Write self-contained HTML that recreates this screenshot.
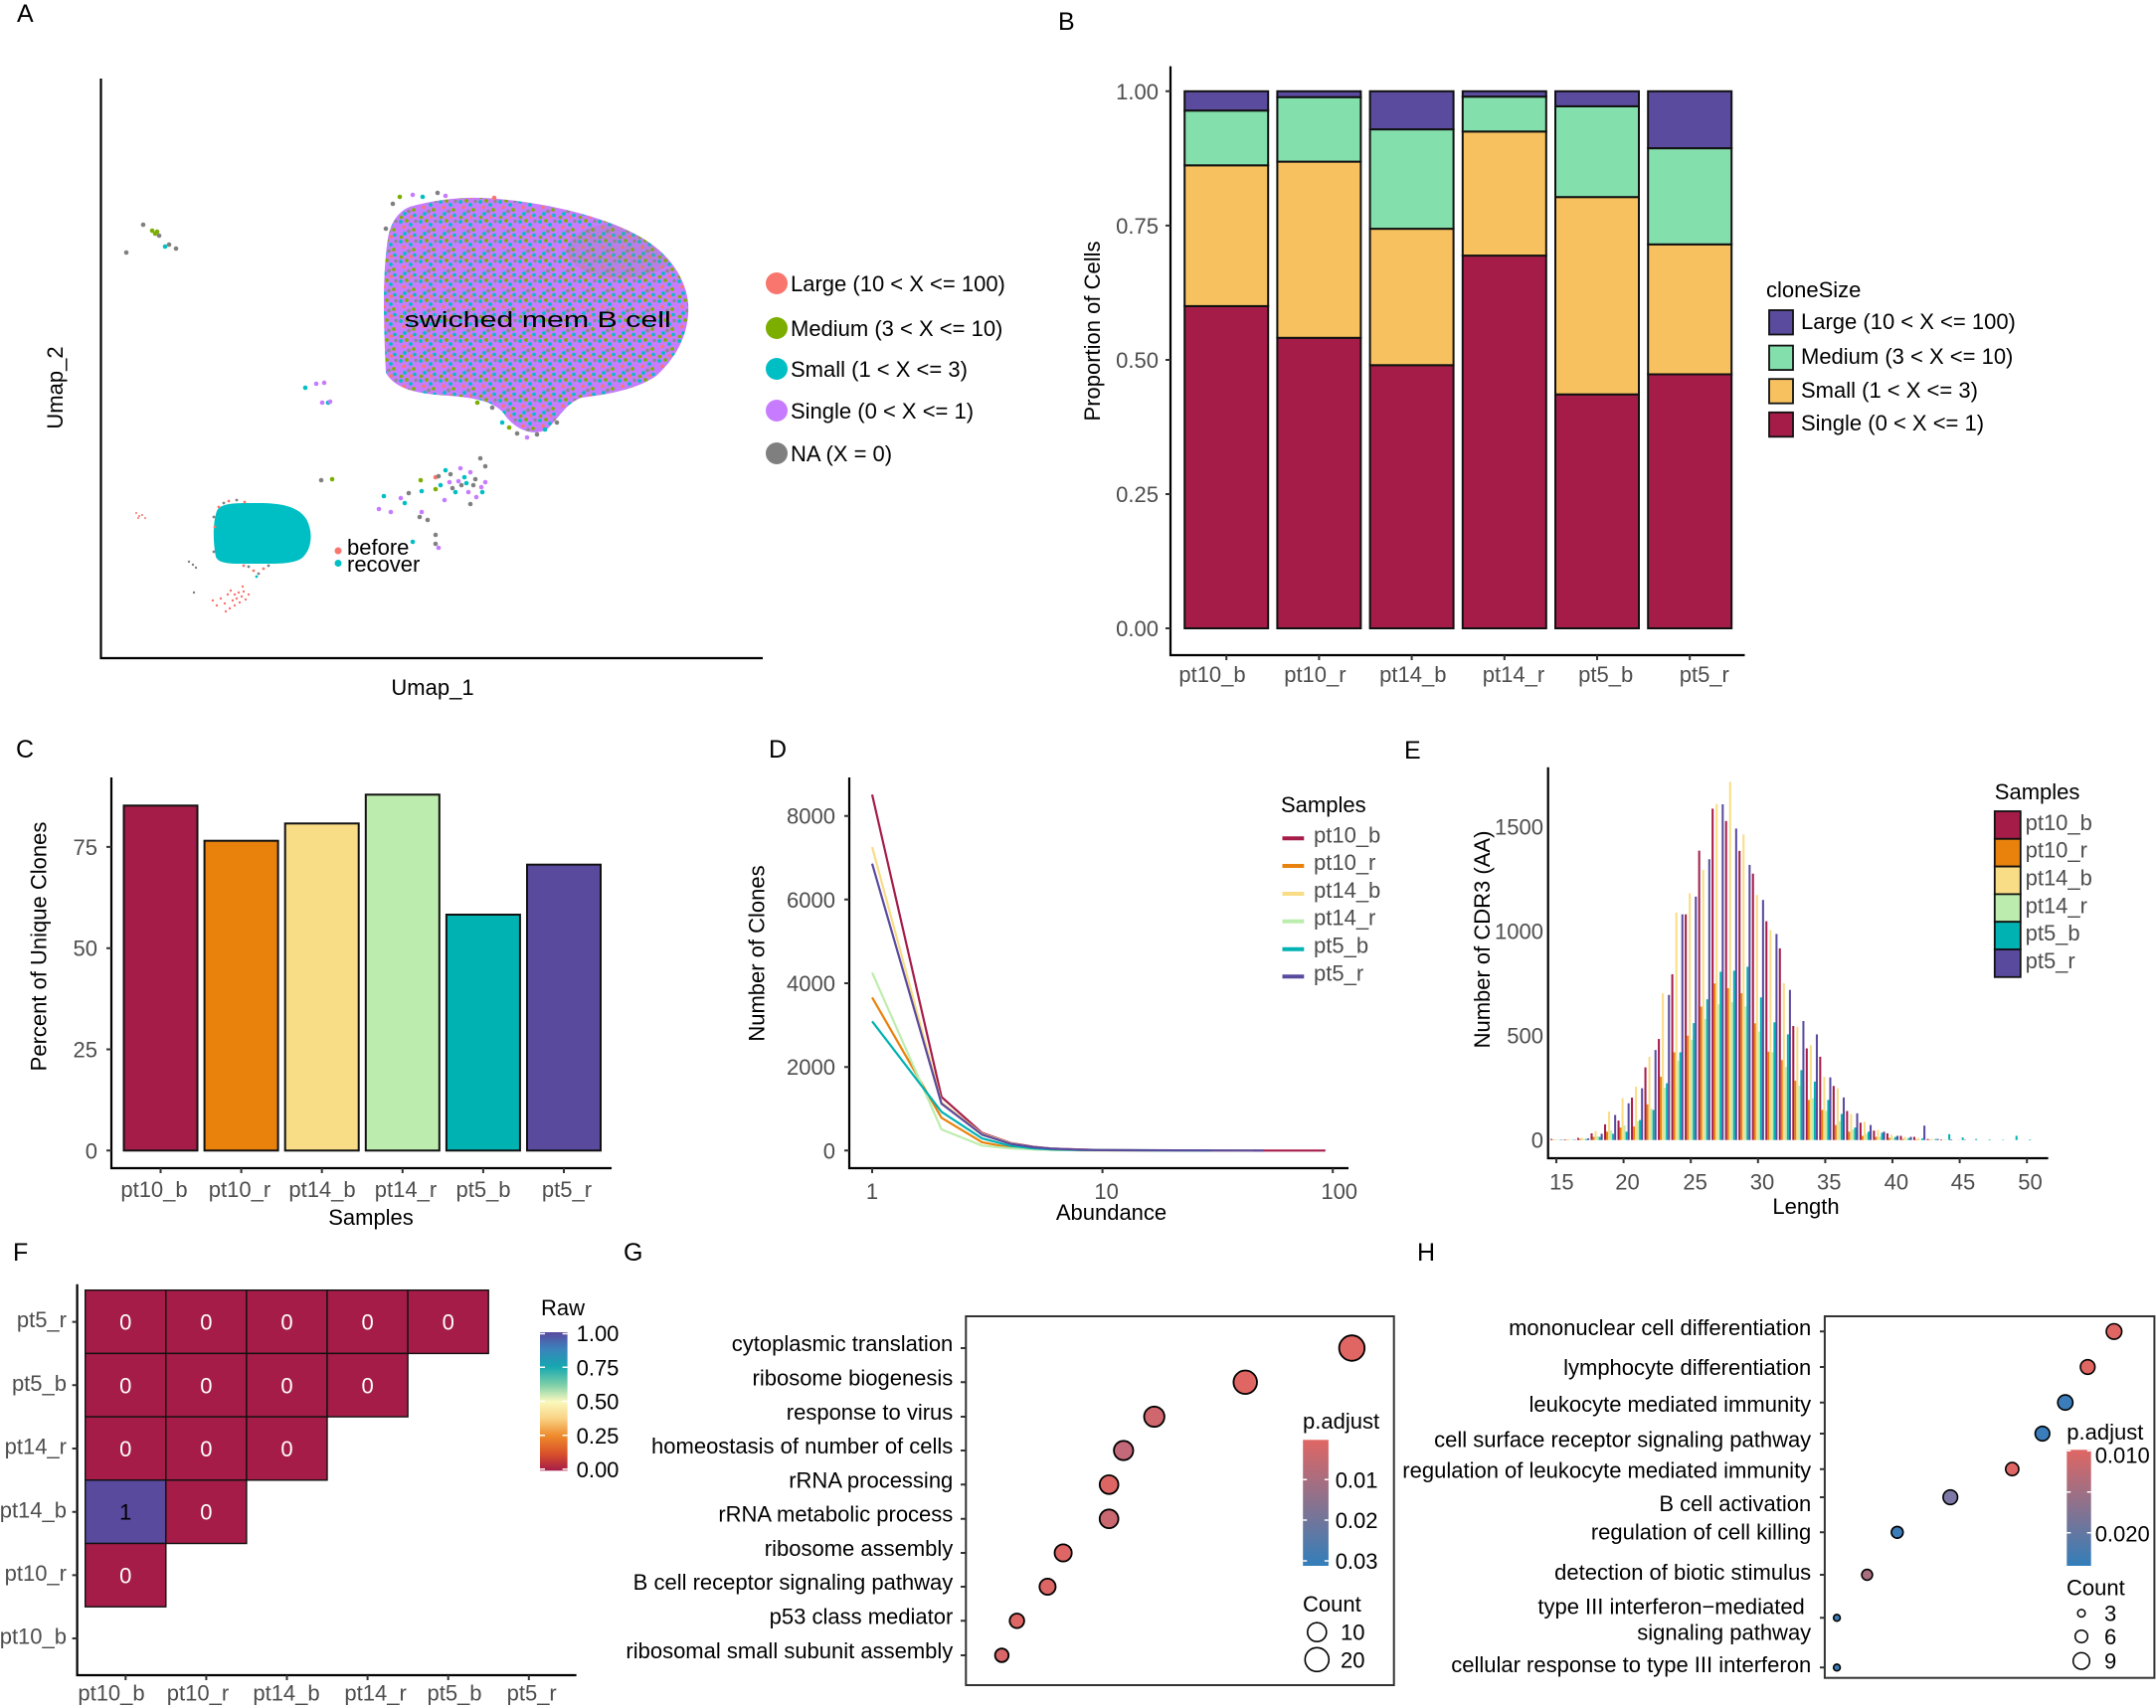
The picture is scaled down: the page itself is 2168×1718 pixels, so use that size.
<!DOCTYPE html>
<html><head><meta charset="utf-8"><title>Figure</title>
<style>
html,body{margin:0;padding:0;background:#fff}
svg{display:block}
text{font-family:"Liberation Sans",Arial,sans-serif;font-size:22px;fill:#000}
.g{fill:#4d4d4d}
.L{font-size:25px}
.e{text-anchor:end}
.m{text-anchor:middle}
.w{fill:#fff}
</style></head><body>
<svg width="2168" height="1718" viewBox="0 0 2168 1718" xmlns="http://www.w3.org/2000/svg">
<defs>
<pattern id="mix" width="20" height="20" patternUnits="userSpaceOnUse">
<rect width="20" height="20" fill="#C77CFF"/>
<circle cx="3" cy="3" r="1.9" fill="#00BFC4"/>
<circle cx="13" cy="6" r="1.9" fill="#00BFC4"/>
<circle cx="7" cy="15" r="1.9" fill="#00BFC4"/>
<circle cx="17" cy="16.5" r="1.8" fill="#00BFC4"/>
<circle cx="9" cy="2" r="1.9" fill="#7CAE00"/>
<circle cx="16" cy="11" r="1.9" fill="#7CAE00"/>
<circle cx="3.5" cy="18.5" r="1.8" fill="#7CAE00"/>
<circle cx="11" cy="12.5" r="1.9" fill="#8c8c8c"/>
<circle cx="18" cy="2.5" r="1.7" fill="#8c8c8c"/>
<circle cx="6" cy="8.5" r="1.8" fill="#F8766D"/>
<circle cx="13.5" cy="18" r="1.7" fill="#F8766D"/>
</pattern>
<clipPath id="blobclip"><path d="M388,375 C386,330 384,280 390,240 C393,222 402,212 412,208 C440,200 470,197 500,200 C560,205 620,222 650,242 C675,258 690,282 692,305 C694,335 680,360 660,378 C640,392 610,397 585,400 C570,405 562,420 552,430 C540,440 520,434 508,418 C500,405 480,400 450,398 C420,396 398,392 388,375 Z"/></clipPath>
<linearGradient id="spec" x1="0" y1="0" x2="0" y2="1">
<stop offset="0" stop-color="#5A4A9E"/><stop offset="0.12" stop-color="#3B82BB"/><stop offset="0.25" stop-color="#16A8B0"/><stop offset="0.38" stop-color="#7DCFA8"/><stop offset="0.5" stop-color="#FAF8BE"/><stop offset="0.62" stop-color="#F9D486"/><stop offset="0.75" stop-color="#EE8A2B"/><stop offset="0.88" stop-color="#D9502B"/><stop offset="1" stop-color="#A51C48"/>
</linearGradient>
<linearGradient id="padj" x1="0" y1="0" x2="0" y2="1">
<stop offset="0" stop-color="#E06663"/><stop offset="1" stop-color="#327EBA"/>
</linearGradient>
</defs>

<!-- ================= Panel A ================= -->
<text class="L" x="17" y="22">A</text>
<g clip-path="url(#blobclip)">
<rect x="380" y="190" width="320" height="255" fill="url(#mix)"/>
<ellipse cx="625" cy="252" rx="55" ry="28" fill="#8a8a8a" opacity="0.22"/>
</g>
<g>
<circle cx="395" cy="205" r="2.3" fill="#808080"/><circle cx="402" cy="198" r="2.3" fill="#7CAE00"/><circle cx="415" cy="196" r="2.3" fill="#C77CFF"/><circle cx="425" cy="198" r="2.3" fill="#00BFC4"/><circle cx="440" cy="194" r="2.3" fill="#808080"/><circle cx="448" cy="197" r="2.3" fill="#C77CFF"/><circle cx="497" cy="199" r="2.3" fill="#F8766D"/><circle cx="388" cy="230" r="2.3" fill="#808080"/>
<circle cx="505" cy="425" r="2.3" fill="#00BFC4"/><circle cx="512" cy="430" r="2.3" fill="#7CAE00"/><circle cx="520" cy="436" r="2.3" fill="#808080"/><circle cx="530" cy="440" r="2.3" fill="#C77CFF"/><circle cx="540" cy="437" r="2.3" fill="#808080"/><circle cx="548" cy="432" r="2.3" fill="#00BFC4"/><circle cx="560" cy="425" r="2.3" fill="#808080"/><circle cx="495" cy="410" r="2.3" fill="#808080"/><circle cx="480" cy="405" r="2.3" fill="#7CAE00"/>
</g>
<text x="406.7" y="329" font-size="29" textLength="268" lengthAdjust="spacingAndGlyphs">swiched mem B cell</text>

<path d="M218,514 C222,505 240,506 260,506 C285,506 300,510 308,522 C315,535 314,552 304,561 C295,568 275,567 255,567 C235,567 220,568 217,560 C214,545 214,525 218,514 Z" fill="#00BFC4"/>
<g>
<circle cx="220" cy="510" r="1.4" fill="#F8766D"/><circle cx="225" cy="506" r="1.4" fill="#808080"/><circle cx="230" cy="504" r="1.4" fill="#F8766D"/><circle cx="238" cy="503" r="1.4" fill="#808080"/><circle cx="246" cy="505" r="1.4" fill="#F8766D"/><circle cx="215" cy="520" r="1.4" fill="#808080"/><circle cx="216" cy="530" r="1.4" fill="#F8766D"/><circle cx="250" cy="570" r="1.4" fill="#808080"/><circle cx="255" cy="574" r="1.4" fill="#F8766D"/><circle cx="260" cy="577" r="1.4" fill="#808080"/><circle cx="258" cy="580" r="1.4" fill="#00BFC4"/><circle cx="265" cy="572" r="1.4" fill="#F8766D"/><circle cx="245" cy="569" r="1.4" fill="#F8766D"/><circle cx="215" cy="555" r="1.4" fill="#808080"/><circle cx="270" cy="569" r="1.4" fill="#808080"/>
</g>
<g fill="#F8766D">
<circle cx="137" cy="516" r="1"/><circle cx="140" cy="519" r="1"/><circle cx="143" cy="518" r="1"/><circle cx="146" cy="521" r="1"/><circle cx="139" cy="521" r="1"/>
<circle cx="232" cy="594" r="1.2"/><circle cx="236" cy="598" r="1.2"/><circle cx="240" cy="596" r="1.2"/><circle cx="243" cy="600" r="1.2"/><circle cx="238" cy="602" r="1.2"/><circle cx="245" cy="595" r="1.2"/><circle cx="234" cy="604" r="1.2"/><circle cx="241" cy="606" r="1.2"/><circle cx="247" cy="603" r="1.2"/><circle cx="229" cy="598" r="1.2"/><circle cx="226" cy="607" r="1.2"/><circle cx="222" cy="602" r="1.2"/><circle cx="218" cy="609" r="1.2"/><circle cx="231" cy="612" r="1.2"/><circle cx="227" cy="615" r="1.2"/><circle cx="236" cy="609" r="1.2"/><circle cx="214" cy="604" r="1.2"/><circle cx="244" cy="590" r="1.2"/><circle cx="250" cy="598" r="1.2"/>
</g>
<g fill="#808080"><circle cx="190" cy="565" r="1.2"/><circle cx="194" cy="568" r="1.2"/><circle cx="197" cy="571" r="1.2"/><circle cx="195" cy="596" r="1.2"/></g>
<g>
<circle cx="144" cy="226" r="2.3" fill="#808080"/><circle cx="153" cy="232" r="2.3" fill="#7CAE00"/><circle cx="156" cy="235" r="2.3" fill="#7CAE00"/><circle cx="158" cy="233" r="2.3" fill="#7CAE00"/><circle cx="160" cy="237" r="2.3" fill="#808080"/><circle cx="166" cy="248" r="2.3" fill="#00BFC4"/><circle cx="170" cy="246" r="2.3" fill="#808080"/><circle cx="177" cy="250" r="2.3" fill="#808080"/><circle cx="127" cy="254" r="2.3" fill="#808080"/>
<circle cx="307" cy="390" r="2.3" fill="#00BFC4"/><circle cx="318" cy="386" r="2.3" fill="#C77CFF"/><circle cx="326" cy="385" r="2.3" fill="#C77CFF"/><circle cx="324" cy="405" r="2.3" fill="#C77CFF"/><circle cx="330" cy="405" r="2.3" fill="#00BFC4"/><circle cx="332" cy="404" r="2.3" fill="#C77CFF"/>
<circle cx="323" cy="483" r="2.3" fill="#808080"/><circle cx="334" cy="482" r="2.3" fill="#7CAE00"/><circle cx="386" cy="499" r="2.3" fill="#00BFC4"/><circle cx="381" cy="512" r="2.3" fill="#C77CFF"/><circle cx="393" cy="515" r="2.3" fill="#C77CFF"/><circle cx="403" cy="501" r="2.3" fill="#C77CFF"/><circle cx="407" cy="506" r="2.3" fill="#00BFC4"/><circle cx="411" cy="496" r="2.3" fill="#808080"/><circle cx="423" cy="483" r="2.3" fill="#7CAE00"/><circle cx="424" cy="494" r="2.3" fill="#00BFC4"/><circle cx="422" cy="520" r="2.3" fill="#808080"/><circle cx="424" cy="515" r="2.3" fill="#C77CFF"/><circle cx="430" cy="523" r="2.3" fill="#808080"/><circle cx="438" cy="492" r="2.3" fill="#7CAE00"/><circle cx="438" cy="480" r="2.3" fill="#F8766D"/><circle cx="441" cy="479" r="2.3" fill="#808080"/><circle cx="443" cy="488" r="2.3" fill="#00BFC4"/><circle cx="448" cy="473" r="2.3" fill="#00BFC4"/><circle cx="447" cy="503" r="2.3" fill="#C77CFF"/><circle cx="453" cy="477" r="2.3" fill="#808080"/><circle cx="452" cy="485" r="2.3" fill="#C77CFF"/><circle cx="455" cy="491" r="2.3" fill="#808080"/><circle cx="458" cy="495" r="2.3" fill="#00BFC4"/><circle cx="461" cy="484" r="2.3" fill="#C77CFF"/><circle cx="463" cy="471" r="2.3" fill="#C77CFF"/><circle cx="464" cy="488" r="2.3" fill="#808080"/><circle cx="467" cy="480" r="2.3" fill="#00BFC4"/><circle cx="469" cy="486" r="2.3" fill="#00BFC4"/><circle cx="471" cy="495" r="2.3" fill="#C77CFF"/><circle cx="473" cy="475" r="2.3" fill="#C77CFF"/><circle cx="473" cy="507" r="2.3" fill="#808080"/><circle cx="476" cy="488" r="2.3" fill="#808080"/><circle cx="478" cy="482" r="2.3" fill="#808080"/><circle cx="479" cy="500" r="2.3" fill="#C77CFF"/><circle cx="483" cy="461" r="2.3" fill="#808080"/><circle cx="484" cy="490" r="2.3" fill="#C77CFF"/><circle cx="485" cy="495" r="2.3" fill="#00BFC4"/><circle cx="488" cy="469" r="2.3" fill="#808080"/><circle cx="488" cy="485" r="2.3" fill="#C77CFF"/><circle cx="438" cy="538" r="2.3" fill="#808080"/><circle cx="438" cy="547" r="2.3" fill="#808080"/><circle cx="441" cy="551" r="2.3" fill="#C77CFF"/><circle cx="415" cy="545" r="2.3" fill="#00BFC4"/>
</g>
<circle cx="340" cy="554" r="3.5" fill="#F8766D"/><circle cx="340" cy="566.5" r="3.5" fill="#00BFC4"/>
<text x="349" y="558" font-size="20">before</text>
<text x="349" y="575" font-size="20">recover</text>
<path d="M101.5 79V662H767" fill="none" stroke="#000" stroke-width="2.2"/>
<text transform="translate(63 390) rotate(-90)" class="m">Umap_2</text>
<text x="435" y="699" class="m">Umap_1</text>
<circle cx="781" cy="285" r="11" fill="#F8766D"/>
<circle cx="781" cy="330" r="11" fill="#7CAE00"/>
<circle cx="781" cy="371" r="11" fill="#00BFC4"/>
<circle cx="781" cy="413" r="11" fill="#C77CFF"/>
<circle cx="781" cy="456" r="11" fill="#7F7F7F"/>
<text x="795" y="293" font-size="23.8">Large (10 &lt; X &lt;= 100)</text>
<text x="795" y="338" font-size="23.8">Medium (3 &lt; X &lt;= 10)</text>
<text x="795" y="379" font-size="23.8">Small (1 &lt; X &lt;= 3)</text>
<text x="795" y="421" font-size="23.8">Single (0 &lt; X &lt;= 1)</text>
<text x="795" y="464" font-size="23.8">NA (X = 0)</text>

<!-- ================= Panel B ================= -->
<text class="L" x="1064" y="30">B</text>
<g stroke="#111" stroke-width="2">
<rect x="1191.2" y="307.9" width="84" height="324.1" fill="#A51C48"/><rect x="1191.2" y="166.3" width="84" height="141.6" fill="#F7C15F"/><rect x="1191.2" y="111.2" width="84" height="55.1" fill="#83DFAB"/><rect x="1191.2" y="91.8" width="84" height="19.4" fill="#5A4B9F"/>
<rect x="1284.4" y="339.8" width="84" height="292.2" fill="#A51C48"/><rect x="1284.4" y="162.6" width="84" height="177.2" fill="#F7C15F"/><rect x="1284.4" y="97.7" width="84" height="64.9" fill="#83DFAB"/><rect x="1284.4" y="91.8" width="84" height="5.9" fill="#5A4B9F"/>
<rect x="1377.6" y="367.3" width="84" height="264.7" fill="#A51C48"/><rect x="1377.6" y="230.1" width="84" height="137.2" fill="#F7C15F"/><rect x="1377.6" y="130.1" width="84" height="100" fill="#83DFAB"/><rect x="1377.6" y="91.8" width="84" height="38.3" fill="#5A4B9F"/>
<rect x="1470.8" y="257.1" width="84" height="374.9" fill="#A51C48"/><rect x="1470.8" y="132.3" width="84" height="124.8" fill="#F7C15F"/><rect x="1470.8" y="97.2" width="84" height="35.1" fill="#83DFAB"/><rect x="1470.8" y="91.8" width="84" height="5.4" fill="#5A4B9F"/>
<rect x="1564" y="396.7" width="84" height="235.3" fill="#A51C48"/><rect x="1564" y="198.2" width="84" height="198.5" fill="#F7C15F"/><rect x="1564" y="106.9" width="84" height="91.3" fill="#83DFAB"/><rect x="1564" y="91.8" width="84" height="15.1" fill="#5A4B9F"/>
<rect x="1657.2" y="376.5" width="84" height="255.5" fill="#A51C48"/><rect x="1657.2" y="245.8" width="84" height="130.7" fill="#F7C15F"/><rect x="1657.2" y="149.1" width="84" height="96.7" fill="#83DFAB"/><rect x="1657.2" y="91.8" width="84" height="57.3" fill="#5A4B9F"/>
</g>
<path d="M1177 66.6V659H1754.5" fill="none" stroke="#000" stroke-width="2.2"/>
<path d="M1172 632H1177M1172 497H1177M1172 362H1177M1172 226.9H1177M1172 91.8H1177M1233.2 659V664M1326.4 659V664M1419.6 659V664M1512.8 659V664M1606 659V664M1699.2 659V664" stroke="#333" stroke-width="2"/>
<text class="g e" x="1165" y="640">0.00</text>
<text class="g e" x="1165" y="505">0.25</text>
<text class="g e" x="1165" y="370">0.50</text>
<text class="g e" x="1165" y="235">0.75</text>
<text class="g e" x="1165" y="100">1.00</text>
<text class="g m" x="1219" y="686">pt10_b</text>
<text class="g m" x="1322.4" y="686">pt10_r</text>
<text class="g m" x="1420.8" y="686">pt14_b</text>
<text class="g m" x="1522" y="686">pt14_r</text>
<text class="g m" x="1614.7" y="686">pt5_b</text>
<text class="g m" x="1713.8" y="686">pt5_r</text>
<text transform="translate(1106 333) rotate(-90)" class="m">Proportion of Cells</text>
<text x="1776" y="299">cloneSize</text>
<g stroke="#111" stroke-width="1.8">
<rect x="1779" y="312" width="24" height="24.5" fill="#5A4B9F"/>
<rect x="1779" y="347.6" width="24" height="24.5" fill="#83DFAB"/>
<rect x="1779" y="381.2" width="24" height="24.5" fill="#F7C15F"/>
<rect x="1779" y="414.8" width="24" height="24.5" fill="#A51C48"/>
</g>
<text x="1811" y="331" font-size="23">Large (10 &lt; X &lt;= 100)</text>
<text x="1811" y="366" font-size="23">Medium (3 &lt; X &lt;= 10)</text>
<text x="1811" y="400" font-size="23">Small (1 &lt; X &lt;= 3)</text>
<text x="1811" y="433" font-size="23">Single (0 &lt; X &lt;= 1)</text>

<!-- ================= Panel C ================= -->
<text class="L" x="16" y="762">C</text>
<g stroke="#111" stroke-width="2">
<rect x="124.5" y="810.3" width="74" height="347" fill="#A51C48"/>
<rect x="205.6" y="845.7" width="74" height="311.6" fill="#E8820C"/>
<rect x="286.7" y="828.3" width="74" height="329" fill="#F9DC86"/>
<rect x="367.8" y="799.3" width="74" height="358" fill="#BDEDAE"/>
<rect x="448.9" y="920" width="74" height="237.3" fill="#00B2B2"/>
<rect x="530" y="869.7" width="74" height="287.6" fill="#594A9E"/>
</g>
<path d="M112 782V1175H615" fill="none" stroke="#000" stroke-width="2.2"/>
<path d="M107 1157.3H112M107 1055.5H112M107 953.7H112M107 851.9H112M161.5 1175V1180M242.6 1175V1180M323.7 1175V1180M404.8 1175V1180M485.9 1175V1180M567 1175V1180" stroke="#333" stroke-width="2"/>
<text class="g e" x="98" y="1165.3">0</text>
<text class="g e" x="98" y="1063.5">25</text>
<text class="g e" x="98" y="961.7">50</text>
<text class="g e" x="98" y="860">75</text>
<text class="g m" x="155" y="1204">pt10_b</text>
<text class="g m" x="241" y="1204">pt10_r</text>
<text class="g m" x="324" y="1204">pt14_b</text>
<text class="g m" x="408" y="1204">pt14_r</text>
<text class="g m" x="486" y="1204">pt5_b</text>
<text class="g m" x="570" y="1204">pt5_r</text>
<text class="m" x="373" y="1232">Samples</text>
<text transform="translate(46.5 952) rotate(-90)" class="m">Percent of Unique Clones</text>

<!-- ================= Panel D ================= -->
<text class="L" x="773" y="762">D</text>
<g fill="none" stroke-width="2.2" stroke-linejoin="round">
<polyline stroke="#A51C48" points="877,799.3 946.7,1103.3 987.5,1139.6 1016.4,1149.7 1038.9,1153.5 1057.2,1155.2 1086.1,1156.2 1108.6,1156.8 1149.4,1157.1 1219.1,1157.3 1332.8,1157.3"/>
<polyline stroke="#E8820C" points="877,1003.3 946.7,1124.3 987.5,1148.9 1016.4,1154.4 1038.9,1155.8 1057.2,1156.5 1086.1,1157 1219.1,1157.3"/>
<polyline stroke="#F9DC86" points="877,852 946.7,1108.9 987.5,1140.5 1016.4,1150.1 1038.9,1153.9 1057.2,1155.4 1086.1,1156.5 1108.6,1156.9 1260,1157.3"/>
<polyline stroke="#BDEDAE" points="877,978.3 946.7,1136 987.5,1152.3 1016.4,1155.2 1038.9,1156.2 1057.2,1156.7 1086.1,1157 1178.3,1157.3"/>
<polyline stroke="#00B2B2" points="877,1027.3 946.7,1118.3 987.5,1145.1 1016.4,1152.7 1038.9,1155.2 1057.2,1156.1 1086.1,1156.8 1219.1,1157.3"/>
<polyline stroke="#594A9E" points="877,868.7 946.7,1110.1 987.5,1141.3 1016.4,1150.6 1038.9,1153.9 1057.2,1155.4 1086.1,1156.5 1108.6,1156.9 1270.5,1157.3"/>
</g>
<path d="M854 782V1175H1356" fill="none" stroke="#000" stroke-width="2.2"/>
<path d="M849 1157.3H854M849 1073.2H854M849 989H854M849 904.8H854M849 820.7H854M877 1175V1180M1108.6 1175V1180M1340.2 1175V1180" stroke="#333" stroke-width="2"/>
<text class="g e" x="840" y="1165.3">0</text>
<text class="g e" x="840" y="1081.2">2000</text>
<text class="g e" x="840" y="997">4000</text>
<text class="g e" x="840" y="912.8">6000</text>
<text class="g e" x="840" y="828.7">8000</text>
<text class="g m" x="877" y="1206">1</text>
<text class="g m" x="1112.6" y="1206">10</text>
<text class="g m" x="1346.7" y="1206">100</text>
<text class="m" x="1117.5" y="1227">Abundance</text>
<text transform="translate(768.5 959) rotate(-90)" class="m">Number of Clones</text>
<text x="1288" y="817">Samples</text>
<g stroke-width="4">
<path d="M1289.5 843.3H1311.3" stroke="#A51C48"/>
<path d="M1289.5 871H1311.3" stroke="#E8820C"/>
<path d="M1289.5 899H1311.3" stroke="#F9DC86"/>
<path d="M1289.5 926.7H1311.3" stroke="#BDEDAE"/>
<path d="M1289.5 954.7H1311.3" stroke="#00B2B2"/>
<path d="M1289.5 982.3H1311.3" stroke="#594A9E"/>
</g>
<text class="g" x="1321" y="847.5">pt10_b</text>
<text class="g" x="1321" y="875">pt10_r</text>
<text class="g" x="1321" y="903">pt14_b</text>
<text class="g" x="1321" y="930.7">pt14_r</text>
<text class="g" x="1321" y="958.7">pt5_b</text>
<text class="g" x="1321" y="986.3">pt5_r</text>

<!-- ================= Panel E ================= -->
<text class="L" x="1412" y="763">E</text>
<g transform="translate(1565 1146.7) scale(13.52 -0.21)">
<g fill="#A51C48" transform="translate(-0.45 0)">
<rect x="0" width=".15" height="5"/><rect x="1" width=".15" height="3"/><rect x="2" width=".15" height="10"/><rect x="3" width=".15" height="32"/><rect x="4" width=".15" height="75"/><rect x="5" width=".15" height="93"/><rect x="6" width=".15" height="203"/><rect x="7" width=".15" height="348"/><rect x="8" width=".15" height="484"/><rect x="9" width=".15" height="794"/><rect x="10" width=".15" height="1081"/><rect x="11" width=".15" height="1386"/><rect x="12" width=".15" height="1587"/><rect x="13" width=".15" height="1528"/><rect x="14" width=".15" height="1385"/><rect x="15" width=".15" height="1276"/><rect x="16" width=".15" height="1048"/><rect x="17" width=".15" height="918"/><rect x="18" width=".15" height="546"/><rect x="19" width=".15" height="439"/><rect x="20" width=".15" height="399"/><rect x="21" width=".15" height="259"/><rect x="22" width=".15" height="139"/><rect x="23" width=".15" height="83"/><rect x="24" width=".15" height="45"/><rect x="25" width=".15" height="32"/><rect x="26" width=".15" height="20"/><rect x="27" width=".15" height="15"/><rect x="28" width=".15" height="5"/><rect x="29" width=".15" height="3"/>
</g>
<g fill="#E8820C" transform="translate(-0.3 0)">
<rect x="0" width=".15" height="2"/><rect x="1" width=".15" height="2"/><rect x="2" width=".15" height="5"/><rect x="3" width=".15" height="15"/><rect x="4" width=".15" height="40"/><rect x="5" width=".15" height="60"/><rect x="6" width=".15" height="65"/><rect x="7" width=".15" height="171"/><rect x="8" width=".15" height="303"/><rect x="9" width=".15" height="420"/><rect x="10" width=".15" height="500"/><rect x="11" width=".15" height="639"/><rect x="12" width=".15" height="750"/><rect x="13" width=".15" height="727"/><rect x="14" width=".15" height="703"/><rect x="15" width=".15" height="559"/><rect x="16" width=".15" height="423"/><rect x="17" width=".15" height="383"/><rect x="18" width=".15" height="284"/><rect x="19" width=".15" height="192"/><rect x="20" width=".15" height="144"/><rect x="21" width=".15" height="72"/><rect x="22" width=".15" height="40"/><rect x="23" width=".15" height="20"/><rect x="24" width=".15" height="15"/><rect x="25" width=".15" height="10"/><rect x="26" width=".15" height="5"/><rect x="27" width=".15" height="3"/><rect x="28" width=".15" height="2"/>
</g>
<g fill="#F9DC86" transform="translate(-0.15 0)">
<rect x="0" width=".15" height="3"/><rect x="1" width=".15" height="3"/><rect x="2" width=".15" height="10"/><rect x="3" width=".15" height="43"/><rect x="4" width=".15" height="136"/><rect x="5" width=".15" height="200"/><rect x="6" width=".15" height="256"/><rect x="7" width=".15" height="399"/><rect x="8" width=".15" height="703"/><rect x="9" width=".15" height="1089"/><rect x="10" width=".15" height="1182"/><rect x="11" width=".15" height="1294"/><rect x="12" width=".15" height="1610"/><rect x="13" width=".15" height="1715"/><rect x="14" width=".15" height="1464"/><rect x="15" width=".15" height="1174"/><rect x="16" width=".15" height="1006"/><rect x="17" width=".15" height="751"/><rect x="18" width=".15" height="543"/><rect x="19" width=".15" height="455"/><rect x="20" width=".15" height="303"/><rect x="21" width=".15" height="248"/><rect x="22" width=".15" height="125"/><rect x="23" width=".15" height="88"/><rect x="24" width=".15" height="48"/><rect x="25" width=".15" height="25"/><rect x="26" width=".15" height="15"/><rect x="27" width=".15" height="10"/><rect x="28" width=".15" height="5"/><rect x="29" width=".15" height="3"/><rect x="30" width=".15" height="2"/>
</g>
<g fill="#BDEDAE" transform="translate(0 0)">
<rect x="0" width=".15" height="2"/><rect x="1" width=".15" height="2"/><rect x="2" width=".15" height="5"/><rect x="3" width=".15" height="18"/><rect x="4" width=".15" height="45"/><rect x="5" width=".15" height="70"/><rect x="6" width=".15" height="90"/><rect x="7" width=".15" height="150"/><rect x="8" width=".15" height="250"/><rect x="9" width=".15" height="380"/><rect x="10" width=".15" height="480"/><rect x="11" width=".15" height="580"/><rect x="12" width=".15" height="650"/><rect x="13" width=".15" height="660"/><rect x="14" width=".15" height="640"/><rect x="15" width=".15" height="520"/><rect x="16" width=".15" height="420"/><rect x="17" width=".15" height="350"/><rect x="18" width=".15" height="260"/><rect x="19" width=".15" height="200"/><rect x="20" width=".15" height="140"/><rect x="21" width=".15" height="90"/><rect x="22" width=".15" height="50"/><rect x="23" width=".15" height="30"/><rect x="24" width=".15" height="15"/><rect x="25" width=".15" height="10"/><rect x="26" width=".15" height="5"/><rect x="27" width=".15" height="3"/><rect x="28" width=".15" height="2"/>
</g>
<g fill="#00B2B2" transform="translate(0.15 0)">
<rect x="0" width=".15" height="1"/><rect x="1" width=".15" height="1"/><rect x="2" width=".15" height="5"/><rect x="3" width=".15" height="15"/><rect x="4" width=".15" height="30"/><rect x="5" width=".15" height="40"/><rect x="6" width=".15" height="96"/><rect x="7" width=".15" height="144"/><rect x="8" width=".15" height="272"/><rect x="9" width=".15" height="420"/><rect x="10" width=".15" height="560"/><rect x="11" width=".15" height="674"/><rect x="12" width=".15" height="806"/><rect x="13" width=".15" height="811"/><rect x="14" width=".15" height="830"/><rect x="15" width=".15" height="683"/><rect x="16" width=".15" height="564"/><rect x="17" width=".15" height="506"/><rect x="18" width=".15" height="335"/><rect x="19" width=".15" height="280"/><rect x="20" width=".15" height="192"/><rect x="21" width=".15" height="125"/><rect x="22" width=".15" height="60"/><rect x="23" width=".15" height="40"/><rect x="24" width=".15" height="35"/><rect x="25" width=".15" height="15"/><rect x="26" width=".15" height="10"/><rect x="27" width=".15" height="8"/><rect x="28" width=".15" height="5"/><rect x="29" width=".15" height="28"/><rect x="30" width=".15" height="12"/><rect x="31" width=".15" height="5"/><rect x="32" width=".15" height="3"/><rect x="33" width=".15" height="2"/><rect x="34" width=".15" height="20"/><rect x="35" width=".15" height="3"/>
</g>
<g fill="#594A9E" transform="translate(0.3 0)">
<rect x="0" width=".15" height="2"/><rect x="1" width=".15" height="2"/><rect x="2" width=".15" height="8"/><rect x="3" width=".15" height="30"/><rect x="4" width=".15" height="120"/><rect x="5" width=".15" height="176"/><rect x="6" width=".15" height="248"/><rect x="7" width=".15" height="431"/><rect x="8" width=".15" height="695"/><rect x="9" width=".15" height="1081"/><rect x="10" width=".15" height="1166"/><rect x="11" width=".15" height="1345"/><rect x="12" width=".15" height="1608"/><rect x="13" width=".15" height="1492"/><rect x="14" width=".15" height="1318"/><rect x="15" width=".15" height="1150"/><rect x="16" width=".15" height="987"/><rect x="17" width=".15" height="719"/><rect x="18" width=".15" height="570"/><rect x="19" width=".15" height="506"/><rect x="20" width=".15" height="300"/><rect x="21" width=".15" height="204"/><rect x="22" width=".15" height="128"/><rect x="23" width=".15" height="72"/><rect x="24" width=".15" height="40"/><rect x="25" width=".15" height="20"/><rect x="26" width=".15" height="15"/><rect x="27" width=".15" height="69"/><rect x="28" width=".15" height="5"/><rect x="29" width=".15" height="3"/><rect x="30" width=".15" height="2"/>
</g>
</g>
<path d="M1556.7 771.7V1165H2059.6" fill="none" stroke="#000" stroke-width="2.2"/>
<path d="M1565 1165V1170M1632.6 1165V1170M1700.2 1165V1170M1767.8 1165V1170M1835.4 1165V1170M1903 1165V1170M1970.6 1165V1170M2038.2 1165V1170" stroke="#333" stroke-width="2"/>
<text class="g e" x="1552" y="1154.7">0</text>
<text class="g e" x="1552" y="1049.7">500</text>
<text class="g e" x="1552" y="944.7">1000</text>
<text class="g e" x="1552" y="839.7">1500</text>
<text class="g m" x="1570.4" y="1196.3">15</text>
<text class="g m" x="1636.5" y="1196.3">20</text>
<text class="g m" x="1704.6" y="1196.3">25</text>
<text class="g m" x="1772" y="1196.3">30</text>
<text class="g m" x="1839.3" y="1196.3">35</text>
<text class="g m" x="1906.9" y="1196.3">40</text>
<text class="g m" x="1974" y="1196.3">45</text>
<text class="g m" x="2041.5" y="1196.3">50</text>
<text class="m" x="1816" y="1221">Length</text>
<text transform="translate(1498 945) rotate(-90)" class="m">Number of CDR3 (AA)</text>
<text x="2005.8" y="804">Samples</text>
<g stroke="#111" stroke-width="1.8">
<rect x="2005.8" y="816" width="26" height="27.8" fill="#A51C48"/>
<rect x="2005.8" y="843.8" width="26" height="27.8" fill="#E8820C"/>
<rect x="2005.8" y="871.6" width="26" height="27.8" fill="#F9DC86"/>
<rect x="2005.8" y="899.4" width="26" height="27.8" fill="#BDEDAE"/>
<rect x="2005.8" y="927.2" width="26" height="27.8" fill="#00B2B2"/>
<rect x="2005.8" y="955" width="26" height="27.8" fill="#594A9E"/>
</g>
<text class="g" x="2036.6" y="835">pt10_b</text>
<text class="g" x="2036.6" y="862.7">pt10_r</text>
<text class="g" x="2036.6" y="890.5">pt14_b</text>
<text class="g" x="2036.6" y="918.3">pt14_r</text>
<text class="g" x="2036.6" y="946.1">pt5_b</text>
<text class="g" x="2036.6" y="973.9">pt5_r</text>

<!-- ================= Panel F ================= -->
<text class="L" x="13" y="1268">F</text>
<g stroke="#111" stroke-width="1.4" fill="#A51C48">
<rect x="85.7" y="1297.7" width="81.1" height="63.7"/><rect x="166.8" y="1297.7" width="81.1" height="63.7"/><rect x="247.9" y="1297.7" width="81.1" height="63.7"/><rect x="329" y="1297.7" width="81.1" height="63.7"/><rect x="410.1" y="1297.7" width="81.1" height="63.7"/>
<rect x="85.7" y="1361.4" width="81.1" height="63.7"/><rect x="166.8" y="1361.4" width="81.1" height="63.7"/><rect x="247.9" y="1361.4" width="81.1" height="63.7"/><rect x="329" y="1361.4" width="81.1" height="63.7"/>
<rect x="85.7" y="1425.1" width="81.1" height="63.7"/><rect x="166.8" y="1425.1" width="81.1" height="63.7"/><rect x="247.9" y="1425.1" width="81.1" height="63.7"/>
<rect x="85.7" y="1488.8" width="81.1" height="63.7" fill="#594A9E"/><rect x="166.8" y="1488.8" width="81.1" height="63.7"/>
<rect x="85.7" y="1552.5" width="81.1" height="63.7"/>
</g>
<g>
<text class="w m" x="126.3" y="1337.6">0</text><text class="w m" x="207.4" y="1337.6">0</text><text class="w m" x="288.5" y="1337.6">0</text><text class="w m" x="369.6" y="1337.6">0</text><text class="w m" x="450.7" y="1337.6">0</text>
<text class="w m" x="126.3" y="1401.3">0</text><text class="w m" x="207.4" y="1401.3">0</text><text class="w m" x="288.5" y="1401.3">0</text><text class="w m" x="369.6" y="1401.3">0</text>
<text class="w m" x="126.3" y="1465">0</text><text class="w m" x="207.4" y="1465">0</text><text class="w m" x="288.5" y="1465">0</text>
<text class="m" x="126.3" y="1528.7">1</text><text class="w m" x="207.4" y="1528.7">0</text>
<text class="w m" x="126.3" y="1592.4">0</text>
</g>
<path d="M77.6 1291.7V1685H579.6" fill="none" stroke="#000" stroke-width="2.2"/>
<path d="M72.6 1329.6H77.6M72.6 1393.3H77.6M72.6 1457H77.6M72.6 1520.7H77.6M72.6 1584.4H77.6M72.6 1648H77.6M126.3 1685V1690M207.4 1685V1690M288.5 1685V1690M369.6 1685V1690M450.7 1685V1690M531.8 1685V1690" stroke="#333" stroke-width="2"/>
<text class="g e" x="67" y="1335.2">pt5_r</text>
<text class="g e" x="67" y="1398.9">pt5_b</text>
<text class="g e" x="67" y="1462.6">pt14_r</text>
<text class="g e" x="67" y="1526.3">pt14_b</text>
<text class="g e" x="67" y="1590">pt10_r</text>
<text class="g e" x="67" y="1653.6">pt10_b</text>
<text class="g m" x="112" y="1710.6">pt10_b</text>
<text class="g m" x="199" y="1710.6">pt10_r</text>
<text class="g m" x="288" y="1710.6">pt14_b</text>
<text class="g m" x="377.6" y="1710.6">pt14_r</text>
<text class="g m" x="457" y="1710.6">pt5_b</text>
<text class="g m" x="534.7" y="1710.6">pt5_r</text>
<text x="544" y="1323">Raw</text>
<rect x="543" y="1340" width="27.6" height="139.3" fill="url(#spec)"/>
<path d="M543 1375.3h5M565.6 1375.3h5M543 1409.5h5M565.6 1409.5h5M543 1443.8h5M565.6 1443.8h5M543 1341.5h5M565.6 1341.5h5M543 1477.8h5M565.6 1477.8h5" stroke="#fff" stroke-width="1.5"/>
<text x="579.6" y="1349">1.00</text>
<text x="579.6" y="1383.3">0.75</text>
<text x="579.6" y="1417.5">0.50</text>
<text x="579.6" y="1451.8">0.25</text>
<text x="579.6" y="1486">0.00</text>

<!-- ================= Panel G ================= -->
<text class="L" x="627" y="1268">G</text>
<rect x="971.3" y="1324" width="430.4" height="371" fill="none" stroke="#333" stroke-width="2"/>
<path d="M966 1356H971M966 1390.3H971M966 1425H971M966 1459H971M966 1493.3H971M966 1527.7H971M966 1562H971M966 1596H971M966 1630.3H971M966 1665H971" stroke="#333" stroke-width="2"/>
<text class="e" x="958.3" y="1359">cytoplasmic translation</text>
<text class="e" x="958.3" y="1393.3">ribosome biogenesis</text>
<text class="e" x="958.3" y="1428">response to virus</text>
<text class="e" x="958.3" y="1462">homeostasis of number of cells</text>
<text class="e" x="958.3" y="1496.3">rRNA processing</text>
<text class="e" x="958.3" y="1530.7">rRNA metabolic process</text>
<text class="e" x="958.3" y="1565">ribosome assembly</text>
<text class="e" x="958.3" y="1599">B cell receptor signaling pathway</text>
<text class="e" x="958.3" y="1633.3">p53 class mediator</text>
<text class="e" x="958.3" y="1668">ribosomal small subunit assembly</text>
<g stroke="#000" stroke-width="1.8">
<circle cx="1359.4" cy="1356" r="12.8" fill="#E06663"/>
<circle cx="1252.2" cy="1390.3" r="11.8" fill="#E06663"/>
<circle cx="1160.7" cy="1425" r="10.2" fill="#D0676E"/>
<circle cx="1129.8" cy="1459" r="9.7" fill="#C4697A"/>
<circle cx="1115.2" cy="1493.3" r="9.4" fill="#DD6665"/>
<circle cx="1115.2" cy="1527.7" r="9.4" fill="#C96871"/>
<circle cx="1069.1" cy="1562" r="8.6" fill="#DE6664"/>
<circle cx="1053.4" cy="1596" r="8.1" fill="#DC6665"/>
<circle cx="1022.6" cy="1630.3" r="7.3" fill="#DE6664"/>
<circle cx="1007.4" cy="1665" r="6.8" fill="#D9676A"/>
</g>
<text x="1310" y="1437">p.adjust</text>
<rect x="1310.2" y="1448.3" width="25.7" height="126.7" fill="url(#padj)"/>
<path d="M1310.2 1488.3h4M1331.9 1488.3h4M1310.2 1529h4M1331.9 1529h4M1310.2 1570h4M1331.9 1570h4" stroke="#fff" stroke-width="1.5"/>
<text x="1342.7" y="1496.3">0.01</text>
<text x="1342.7" y="1537">0.02</text>
<text x="1342.7" y="1578">0.03</text>
<text x="1310" y="1621">Count</text>
<circle cx="1324.3" cy="1641.7" r="9.5" fill="none" stroke="#000" stroke-width="1.6"/>
<circle cx="1324.3" cy="1669.3" r="12" fill="none" stroke="#000" stroke-width="1.6"/>
<text x="1348" y="1649.7">10</text>
<text x="1348" y="1677.3">20</text>

<!-- ================= Panel H ================= -->
<text class="L" x="1425" y="1268">H</text>
<rect x="1834.9" y="1324" width="331.5" height="363.7" fill="none" stroke="#333" stroke-width="2"/>
<path d="M1830 1339.3H1835M1830 1375H1835M1830 1410.7H1835M1830 1442H1835M1830 1477.7H1835M1830 1506H1835M1830 1541.3H1835M1830 1584H1835M1830 1627.3H1835M1830 1677.3H1835" stroke="#333" stroke-width="2"/>
<text class="e" x="1821.2" y="1343">mononuclear cell differentiation</text>
<text class="e" x="1821.2" y="1383">lymphocyte differentiation</text>
<text class="e" x="1821.2" y="1420">leukocyte mediated immunity</text>
<text class="e" x="1821.2" y="1455.5">cell surface receptor signaling pathway</text>
<text class="e" x="1821.2" y="1486.5">regulation of leukocyte mediated immunity</text>
<text class="e" x="1821.2" y="1520">B cell activation</text>
<text class="e" x="1821.2" y="1548.5">regulation of cell killing</text>
<text class="e" x="1821.2" y="1589">detection of biotic stimulus</text>
<text class="e" x="1814.8" y="1623.5">type III interferon−mediated</text>
<text class="e" x="1821.2" y="1649.5">signaling pathway</text>
<text class="e" x="1821.2" y="1682">cellular response to type III interferon</text>
<g stroke="#000" stroke-width="1.6">
<circle cx="2125.8" cy="1339.3" r="7.8" fill="#E06663"/>
<circle cx="2099.3" cy="1375" r="7.3" fill="#E06663"/>
<circle cx="2076.8" cy="1410.7" r="7.6" fill="#3A7DBA"/>
<circle cx="2053.8" cy="1442" r="7.3" fill="#3A7DBA"/>
<circle cx="2023.4" cy="1477.7" r="6.6" fill="#DF6664"/>
<circle cx="1961.2" cy="1506" r="7.3" fill="#7D79A6"/>
<circle cx="1907.8" cy="1541.3" r="5.9" fill="#3B7DB9"/>
<circle cx="1877.5" cy="1584" r="5.4" fill="#A96F7F"/>
<circle cx="1847.1" cy="1627.3" r="3.4" fill="#3A7DBA"/>
<circle cx="1847.1" cy="1677.3" r="3.4" fill="#3A7DBA"/>
</g>
<text x="2078.3" y="1448">p.adjust</text>
<rect x="2078.3" y="1458.3" width="24.4" height="116.7" fill="url(#padj)"/>
<path d="M2078.3 1459.3h4M2098.7 1459.3h4M2078.3 1500.7h4M2098.7 1500.7h4M2078.3 1541.7h4M2098.7 1541.7h4" stroke="#fff" stroke-width="1.5"/>
<text x="2106.7" y="1471.3">0.010</text>
<text x="2106.7" y="1550.3">0.020</text>
<text x="2078" y="1604.6">Count</text>
<circle cx="2093" cy="1622.7" r="3.8" fill="none" stroke="#000" stroke-width="1.5"/>
<circle cx="2093" cy="1646" r="6.3" fill="none" stroke="#000" stroke-width="1.5"/>
<circle cx="2093" cy="1670.7" r="8.3" fill="none" stroke="#000" stroke-width="1.5"/>
<text x="2116" y="1630.7">3</text>
<text x="2116" y="1654">6</text>
<text x="2116" y="1678.7">9</text>
</svg>
</body></html>
